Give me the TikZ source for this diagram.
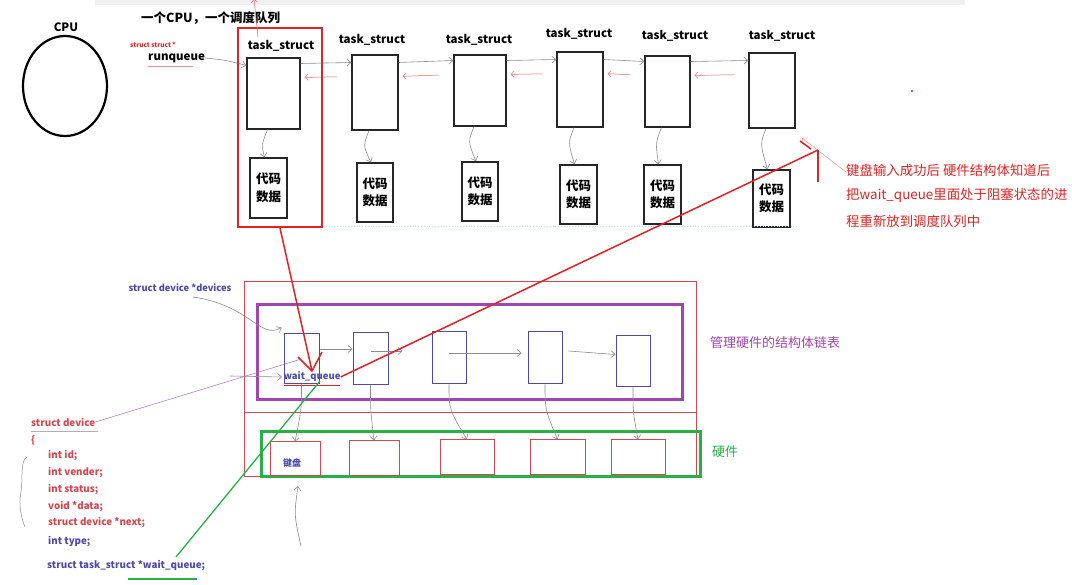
\documentclass[tikz,border=0pt]{standalone}
\usepackage{fontspec}
\setmainfont{Noto Sans CJK SC}
\usetikzlibrary{arrows.meta,calc,shapes.geometric}
\definecolor{myred}{RGB}{225,35,35}
\definecolor{boxred}{RGB}{215,70,80}
\definecolor{myblue}{RGB}{75,75,170}
\definecolor{mypurple}{RGB}{160,70,175}
\definecolor{mygreen}{RGB}{40,175,70}
\definecolor{linegray}{RGB}{140,140,150}
\newcommand{\fs}[1]{\fontsize{#1}{#1}\selectfont}
\begin{document}
\begin{tikzpicture}[x=1pt,y=-1pt,
  lbl/.style={font=\fs{11.5}\bfseries, inner sep=0},
  tbox/.style={draw=black!85, line width=1.3pt, inner sep=0},
  cbox/.style={draw=black!85, line width=1.3pt, inner sep=0, align=center, font=\fs{12.5}\bfseries},
  bbox/.style={draw=myblue, line width=1pt, inner sep=0},
  hbox/.style={draw=boxred, line width=1pt, inner sep=0},
  garrow/.style={draw=linegray, line width=0.6pt, -{Straight Barb[length=4pt,width=7pt]}},
  rback/.style={draw=myred!70, line width=0.5pt, -{Straight Barb[length=3pt,width=6pt]}},
  code/.style={font=\fs{9.8}\bfseries, text=boxred, anchor=west, inner sep=0},
  codeb/.style={font=\fs{9.8}\bfseries, text=myblue, anchor=west, inner sep=0},
]
\useasboundingbox (0,0) rectangle (1072,585);
\fill[white] (0,0) rectangle (1072,585);
\fill[black!6] (95,0) rectangle (965,5);

% CPU
\node[font=\fs{11.5}\bfseries, inner sep=0] (cpulbl) at (66,27) {CPU};
\node[draw=black, line width=2.2pt, ellipse, minimum width=84, minimum height=100, inner sep=0] (cpu) at (65,86) {};
\node[font=\fs{12.5}\bfseries, anchor=west, inner sep=0] (title) at (141,18) {一个CPU，一个调度队列};

% runqueue
\node[font=\fs{6.5}\bfseries, text=myred, anchor=west, inner sep=0] (ss) at (130,45) {struct struct *};
\node[font=\fs{11.5}\bfseries, anchor=west, inner sep=0] (rq) at (148,58) {runqueue};
\draw[myred!50, line width=0.5pt] ([yshift=-4]rq.south west) -- ([yshift=-4,xshift=-12]rq.south east);

% task structs
\node[tbox, minimum width=53, minimum height=71] (t1) at (273.5,93.5) {};
\node[tbox, minimum width=46, minimum height=75] (t2) at (375,92.5) {};
\node[tbox, minimum width=52, minimum height=71] (t3) at (480,90.5) {};
\node[tbox, minimum width=46, minimum height=75] (t4) at (580,89.5) {};
\node[tbox, minimum width=45, minimum height=71] (t5) at (667.5,91.5) {};
\node[tbox, minimum width=46, minimum height=75] (t6) at (772,90.5) {};

\node[lbl] (l1) at (281,46) {task\_struct};
\node[lbl] (l2) at (372,40) {task\_struct};
\node[lbl] (l3) at (479,40) {task\_struct};
\node[lbl] (l4) at (579,34) {task\_struct};
\node[lbl] (l5) at (675,36) {task\_struct};
\node[lbl] (l6) at (782,36) {task\_struct};

\node[cbox, minimum width=37, minimum height=60] (c1) at (268.5,188) {代码\\[5pt]数据};
\node[cbox, minimum width=36, minimum height=59] (c2) at (375,192.5) {代码\\[5pt]数据};
\node[cbox, minimum width=36, minimum height=59] (c3) at (480,191.5) {代码\\[5pt]数据};
\node[cbox, minimum width=37, minimum height=59] (c4) at (578.5,194.5) {代码\\[5pt]数据};
\node[cbox, minimum width=37, minimum height=59] (c5) at (662.5,194.5) {代码\\[5pt]数据};
\node[cbox, minimum width=37, minimum height=57] (c6) at (771.5,198.5) {代码\\[5pt]数据};

% runqueue arrow
\draw[garrow] (rq.east) .. controls (225,60) .. ([yshift=28]t1.west);

% forward arrows
\foreach \a/\b in {t1/t2,t2/t3,t3/t4,t4/t5,t5/t6}{
  \draw[garrow] ([yshift=30]\a.east) -- ([yshift=30]\b.west);
  \draw[rback, shorten >=4pt, shorten <=14pt] ([yshift=16]\b.west) -- ([yshift=16]\a.east);
}

% down arrows task -> code
\foreach \a/\b in {t1/c1,t2/c2,t3/c3,t4/c4,t5/c5,t6/c6}{
  \draw[garrow] ([xshift=-6]\a.south) .. controls ([xshift=-12,yshift=-15]\a.south) .. ([xshift=-4]\b.north);
}

% red highlight
\node[draw=myred, line width=2pt, minimum width=84, minimum height=199, inner sep=0] (hl) at (280,127.5) {};
\draw[myred!70, line width=0.5pt, -{Straight Barb[length=3pt,width=6pt]}] (hl.north) ++(-22,10) coordinate (up0) -- ++(-4,-38) coordinate (up1);

% dotted line
\draw[cyan!35, dotted, line width=0.8pt] (hl.south east) ++(0,-2) -- ++(475,0);

% annotation
\node[font=\fs{13.4}, text=myred, anchor=north west, align=left, inner sep=0] (ann) at (846,164) {键盘输入成功后 硬件结构体知道后\\[11pt]把wait\_queue里面处于阻塞状态的进\\[11pt]程重新放到调度队列中};
\coordinate (annp) at (802,138);
\draw[myred!50, line width=0.5pt, -{Straight Barb[length=4pt,width=7pt]}] ([yshift=-8]ann.north west) -- (annp);
\fill[myred] (912,91) circle (1.2);

% lower structure
\node[draw=boxred, line width=1pt, minimum width=452, minimum height=195, inner sep=0] (outer) at (470,379.5) {};
\draw[boxred, line width=1pt] (244,413) -- (696,413);
\node[draw=mypurple, line width=3pt, minimum width=425, minimum height=95, inner sep=0] (mgmt) at (469.5,352.5) {};
\node[draw=mygreen, line width=3pt, minimum width=439, minimum height=45, inner sep=0] (hw) at (480.5,454.5) {};

\node[bbox, minimum width=35, minimum height=50] (b1) at (301.5,359) {};
\node[bbox, minimum width=35, minimum height=52] (b2) at (370.5,359) {};
\node[bbox, minimum width=34, minimum height=52] (b3) at (449,358) {};
\node[bbox, minimum width=34, minimum height=52] (b4) at (545,358) {};
\node[bbox, minimum width=34, minimum height=51] (b5) at (633,361.5) {};

\node[hbox, minimum width=50, minimum height=34] (h1) at (295,459) {};
\node[hbox, minimum width=50, minimum height=35] (h2) at (374,458.5) {};
\node[hbox, minimum width=54, minimum height=35] (h3) at (467,457.5) {};
\node[hbox, minimum width=55, minimum height=35] (h4) at (557.5,457.5) {};
\node[hbox, minimum width=54, minimum height=35] (h5) at (638,457.5) {};
\node[font=\fs{9}\bfseries, text=myblue, inner sep=0] (kb) at (292,463) {键盘};

% arrows among blue boxes
\draw[garrow] ([yshift=10]b1.east) -- ([yshift=10]b2.west);
\draw[garrow] ([yshift=8]b2.center) -- ([xshift=14,yshift=8]b2.east);
\draw[garrow] ([yshift=5]b3.center) -- ([xshift=-6,yshift=5]b4.west);
\draw[garrow] ([yshift=7]b4.east) ++(6,0) coordinate (b4a) -- ([yshift=7]b5.west);
\foreach \a/\b in {b1/h1,b2/h2,b3/h3,b4/h4,b5/h5}{
  \draw[garrow] (\a.south) .. controls ([yshift=-25]\a.south) .. (\b.north);
}
\coordinate (kbup) at (298,486);
\draw[garrow] (301,546) .. controls (294,515) .. (kbup);

% wait queue
\node[font=\fs{9.5}\bfseries, text=myblue, inner sep=0] (wq) at (312,377) {wait\_queue};
\draw[myred, line width=0.6pt] (284,385) -- (340,385);

% devices
\node[font=\fs{9.3}\bfseries, text=myblue, inner sep=0] (dev) at (180,288) {struct device *devices};
\draw[garrow] (193,297) .. controls (250,305) and (260,340) .. ([xshift=-2,yshift=6]b1.north west);
\coordinate (wqa) at (282,377);
\draw[garrow] (230,376) -- (wqa);

% code listing
\node[code] (sd) at (31,422) {struct device};
\node[code] (brace) at (31,440) {\{};
\node[code] (cid) at (48,456) {int id;};
\node[code] (cven) at (48,473) {int vender;};
\node[code] (cst) at (48,490) {int status;};
\node[code] (cdat) at (48,507) {void *data;};
\node[code] (cnext) at (48,523) {struct device *next;};
\node[codeb] (ctype) at (48,542) {int type;};
\node[codeb] (cwq) at (47,566) {struct task\_struct *wait\_queue;};
\draw[linegray, line width=0.5pt] (27,457) .. controls (20,460) and (23,480) .. (21,492) .. controls (18,505) and (22,520) .. (25,527);
\draw[linegray!70, line width=0.5pt] (31,431) -- (98,431);

\draw[mypurple!80, line width=0.5pt] (sd.east) -- (b1.center);
\draw[mygreen, line width=1.3pt] (176,557) -- (320,381);
\draw[mygreen, line width=1.3pt] (128,579) -- (197,579);

% big red lines
\draw[myred, line width=1.5pt] (hl.south) ++(0,0) coordinate (hs) -- (312,371) coordinate (wqtip);
\draw[myred, line width=1.5pt] (298,357) -- (wqtip) -- (322,352);
\draw[myred, line width=1.5pt] (wq.east) -- (818,150) coordinate (rtop);
\draw[myred, line width=1.5pt] (rtop) -- (818,182);
\draw[myred, line width=1.5pt] (800,141) -- (811,149);

% side labels
\node[font=\fs{13}, text=mypurple, anchor=west, inner sep=0] (mlbl) at (710,343) {管理硬件的结构体链表};
\node[font=\fs{13}, text=mygreen, anchor=west, inner sep=0] (hlbl) at (712,452) {硬件};
\end{tikzpicture}
\end{document}
